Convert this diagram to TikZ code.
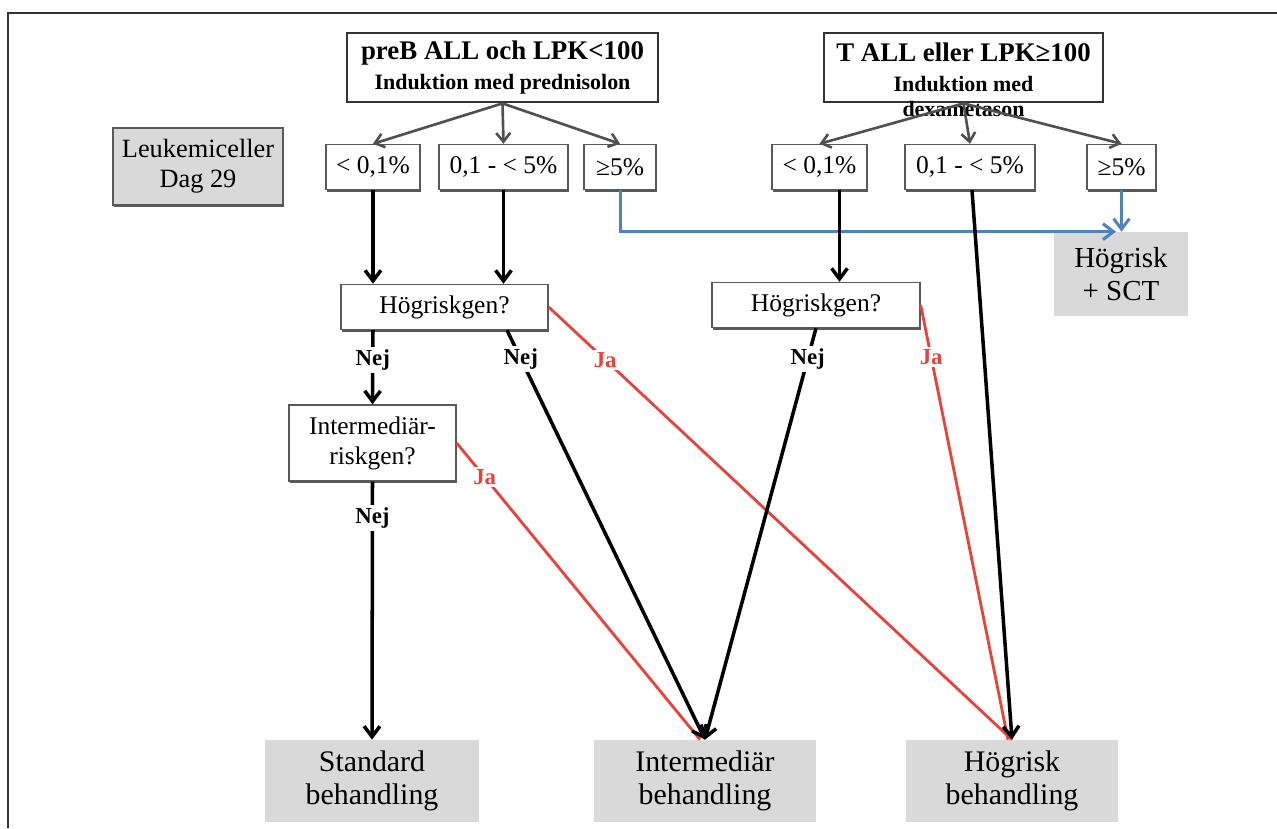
\documentclass[tikz,border=0pt]{standalone}
\usepackage{fontspec}
\setmainfont{Liberation Serif}
\usetikzlibrary{arrows.meta, positioning, shadows}
\definecolor{lkGray}{HTML}{595959}
\definecolor{lkFill}{HTML}{D9D9D9}
\definecolor{lkBlue}{HTML}{4F81BD}
\definecolor{lkRed}{HTML}{E8433A}
\definecolor{lkFrame}{HTML}{333333}

\begin{document}
\begin{tikzpicture}[
  x=0.02cm, y=-0.02cm,
  every node/.style={font=\fontsize{14.5}{17}\selectfont, align=center, inner sep=1pt},
  headbox/.style={draw=black!80, line width=1.6pt, fill=white, minimum height=1.38cm, font=\bfseries\fontsize{12.5}{17}\selectfont},
  pctbox/.style={draw=lkGray, line width=0.8pt, fill=white, minimum height=0.9cm,
    drop shadow={shadow xshift=0.6pt, shadow yshift=-1.2pt, fill=lkGray, opacity=1}},
  resbox/.style={fill=lkFill, minimum height=1.64cm, font=\fontsize{17}{18.5}\selectfont},
  grayarr/.style={draw=lkGray!90!black, line width=1.5pt, -{Straight Barb[length=5pt, width=8pt]}},
  blackarr/.style={draw=black, line width=2pt, -{Straight Barb[length=6pt, width=9pt]}},
  redline/.style={draw=lkRed, line width=1.6pt},
  bluearr/.style={draw=lkBlue, line width=1.7pt, -{Straight Barb[length=6pt, width=9pt]}},
  lbl/.style={fill=white, font=\bfseries\fontsize{13}{15}\selectfont, inner sep=1.5pt}
]
  \useasboundingbox (0,0) rectangle (1277,828);
  \draw[lkFrame, line width=1.2pt] (8,828) -- (8,13) -- (1277,13);

  % start groups
  \node[headbox, minimum width=6.22cm] (preb) at (502.5,67.5)
    {{\fontsize{15.3}{17}\selectfont preB ALL och LPK<100}\\Induktion med prednisolon};
  \node[headbox, minimum width=5.58cm,
    label={[font=\bfseries\fontsize{12.5}{15}\selectfont, anchor=center, yshift=-0.12cm]south:dexametason}] (tall) at (963.5,67.5)
    {{\fontsize{15.3}{17}\selectfont T ALL eller LPK≥100}\\Induktion med};

  \node[pctbox, fill=lkFill, minimum width=3.4cm, minimum height=1.54cm, font=\fontsize{15}{17}\selectfont] (leuk) at (198,166.5) {Leukemiceller\\Dag 29};

  % MRD day 29
  \foreach \nm/\xx/\ww/\txt in {l1/373/1.88/{< 0,1\%}, l2/503.5/2.58/{0,1 - < 5\%}, l3/620/1.44/{≥5\%},
                                r1/819.5/1.9/{< 0,1\%}, r2/970/2.6/{0,1 - < 5\%}, r3/1121.5/1.38/{≥5\%}} {
    \node[pctbox, minimum width=\ww cm] (\nm) at (\xx,167) {\txt};
  }

  \node[resbox, minimum width=2.68cm, minimum height=1.68cm, font=\fontsize{16.5}{18.7}\selectfont] (hsct) at (1121,274) {Högrisk\\+ SCT};

  \node[pctbox, minimum width=4.14cm] (hgl) at (444.5,307) {Högriskgen?};
  \node[pctbox, minimum width=4.16cm] (hgr) at (816,305) {Högriskgen?};
  \node[pctbox, minimum width=3.34cm, minimum height=1.52cm] (intg) at (372.5,443) {Intermediär-\\riskgen?};

  % treatment
  \node[resbox, minimum width=4.28cm] (std) at (372,781) {Standard\\behandling};
  \node[resbox, minimum width=4.44cm] (imb) at (705,781) {Intermediär\\behandling};
  \node[resbox, minimum width=4.24cm] (hrb) at (1012,781) {Högrisk\\behandling};

  % arrows
  \foreach \tgt in {l1,l2,l3} \draw[grayarr] (preb.south) -- (\tgt.north);
  \foreach \tgt in {r1,r2,r3} \draw[grayarr] (tall.south) -- (\tgt.north);

  \draw[bluearr] (l3.south) |- ([xshift=-0.1cm]hsct.north);
  \draw[bluearr] (r3.south) -- (r3.south |- hsct.north);

  \draw[redline] (hgl.east) -- node[lbl, text=lkRed, pos=0.122] {Ja} (hrb.north);
  \draw[redline] (hgr.east) -- node[lbl, text=lkRed, pos=0.12] {Ja} ([xshift=-0.08cm]hrb.north);
  \draw[redline] (intg.east) -- node[lbl, text=lkRed, pos=0.115] {Ja} ([xshift=-0.1cm]imb.north);

  \coordinate (r1out) at ([xshift=0.4cm]r1.south);
  \coordinate (hglr) at ([xshift=1.25cm]hgl.south);
  \draw[blackarr] (l1.south) -- (l1.south |- hgl.north);
  \draw[blackarr] (l2.south) -- (l2.south |- hgl.north);
  \draw[blackarr] (r1out) -- (r1out |- hgr.north);
  \draw[blackarr] ([xshift=0.04cm]r2.south) -- (hrb.north);
  \draw[blackarr] (l1.south |- hgl.south) -- node[lbl, pos=0.4] {Nej} (intg.north);
  \draw[blackarr] (hglr) -- node[lbl, pos=0.07] {Nej} (imb.north);
  \draw[blackarr] (hgr.south) -- node[lbl, pos=0.075] {Nej} (imb.north);
  \draw[blackarr] (intg.south) -- node[lbl, pos=0.14] {Nej} (std.north);
\end{tikzpicture}
\end{document}
